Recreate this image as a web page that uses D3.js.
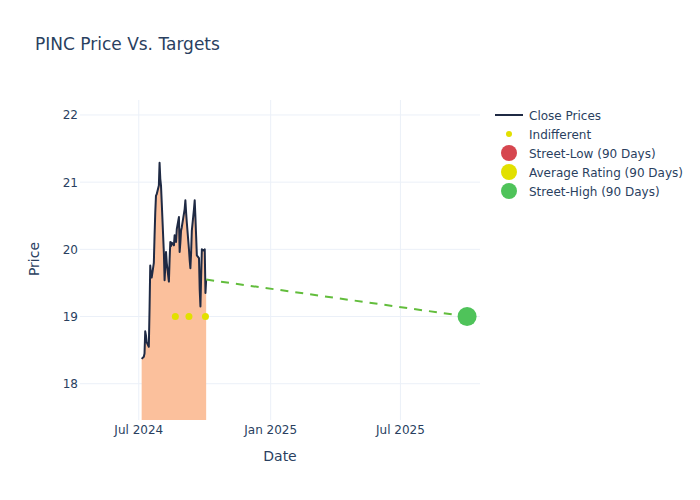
<!DOCTYPE html>
<html><head><meta charset="utf-8">
<script src="https://cdn.jsdelivr.net/npm/d3@7"></script>
<style>body{margin:0;background:#fff}svg{font-family:"DejaVu Sans",verdana,arial,sans-serif}</style>
</head><body><svg id="c" width="700" height="500"></svg>
<script>
const dates = ["2024-07-05","2024-07-08","2024-07-09","2024-07-10","2024-07-11","2024-07-12","2024-07-15","2024-07-16","2024-07-17","2024-07-18","2024-07-19","2024-07-22","2024-07-23","2024-07-24","2024-07-25","2024-07-26","2024-07-29","2024-07-30","2024-07-31","2024-08-01","2024-08-02","2024-08-05","2024-08-06","2024-08-07","2024-08-08","2024-08-09","2024-08-12","2024-08-13","2024-08-14","2024-08-15","2024-08-16","2024-08-19","2024-08-20","2024-08-21","2024-08-22","2024-08-23","2024-08-26","2024-08-27","2024-08-28","2024-08-29","2024-08-30","2024-09-03","2024-09-04","2024-09-05","2024-09-06","2024-09-09","2024-09-10","2024-09-11","2024-09-12","2024-09-13","2024-09-16","2024-09-17","2024-09-18","2024-09-19","2024-09-20","2024-09-23","2024-09-24","2024-09-25","2024-09-26","2024-09-27","2024-09-30","2024-10-01","2024-10-02","2024-10-03"];
const closes = [18.37,18.40,18.45,18.78,18.72,18.62,18.55,19.10,19.76,19.62,19.58,19.80,20.20,20.55,20.80,20.82,20.95,21.29,21.05,20.95,20.70,19.95,19.54,19.75,19.96,19.80,19.52,19.85,20.11,20.05,20.10,20.06,20.21,20.15,20.11,20.30,20.48,19.96,20.10,20.28,20.33,20.60,20.73,20.55,20.40,20.00,19.84,19.72,19.95,20.28,20.60,20.73,20.48,20.20,19.91,19.87,19.40,19.15,19.60,20.00,19.98,20.00,19.35,19.55];
const ratingDates = ["2024-08-21","2024-09-09","2024-10-02"];
const ratingValues = [19.0,19.0,19.0];
const targetDate = "2025-10-02";
const streetHigh = 19.0;
const xTickDates = ["2024-07-01","2025-01-01","2025-07-01"];
const xTickLabels = ["Jul 2024","Jan 2025","Jul 2025"];
const yTicks = [18,19,20,21,22];
const legendItems = ["Close Prices","Indifferent","Street-Low (90 Days)","Average Rating (90 Days)","Street-High (90 Days)"];

const parse = d3.utcParse("%Y-%m-%d");
const svg = d3.select("#c");
const L=80,R=480,T=100,B=420;
const x = d3.scaleUtc().domain([parse("2024-04-10"), parse("2025-10-20")]).range([L,R]);
const y = d3.scaleLinear().domain([17.46, 22.223]).range([B,T]);
const txt = "#2a3f5f", grid = "#ebf0f8";

// gridlines
svg.append("g").selectAll("line").data(yTicks).join("line")
  .attr("x1",L).attr("x2",R).attr("y1",d=>y(d)).attr("y2",d=>y(d)).attr("stroke",grid).attr("stroke-width",1);
svg.append("g").selectAll("line").data(xTickDates).join("line")
  .attr("y1",T).attr("y2",B).attr("x1",d=>x(parse(d))).attr("x2",d=>x(parse(d))).attr("stroke",grid).attr("stroke-width",1);

const pts = dates.map((d,i)=>({d:parse(d),v:closes[i]}));
svg.append("clipPath").attr("id","pc").append("rect").attr("x",L).attr("y",T).attr("width",R-L).attr("height",B-T);
const g = svg.append("g").attr("clip-path","url(#pc)");
g.append("path").datum(pts).attr("d",d3.area().x(p=>x(p.d)).y0(B+50).y1(p=>y(p.v)))
  .attr("fill","#fbc09c");
g.append("path").datum(pts).attr("d",d3.line().x(p=>x(p.d)).y(p=>y(p.v)))
  .attr("fill","none").attr("stroke","#1f2a44").attr("stroke-width",2).attr("stroke-linejoin","round");

// dashed target line
const last = pts[pts.length-1];
g.append("line").attr("x1",x(last.d)).attr("y1",y(last.v)).attr("x2",x(parse(targetDate))).attr("y2",y(streetHigh))
  .attr("stroke","#62bd3c").attr("stroke-width",2).attr("stroke-dasharray","8,7");

// rating dots
g.selectAll("circle.r").data(ratingDates).join("circle").attr("class","r")
  .attr("cx",d=>x(parse(d))).attr("cy",(d,i)=>y(ratingValues[i])).attr("r",3.5).attr("fill","#e2e000");

// street high marker
g.append("circle").attr("cx",x(parse(targetDate))).attr("cy",y(streetHigh)).attr("r",9.5).attr("fill","#4fc35a");

// axis tick labels
svg.append("g").selectAll("text").data(yTicks).join("text")
  .attr("x",78).attr("y",d=>y(d)+4.5).attr("text-anchor","end").attr("font-size",12).attr("fill",txt).text(d=>d);
svg.append("g").selectAll("text").data(xTickDates).join("text")
  .attr("x",d=>x(parse(d))).attr("y",434).attr("text-anchor","middle").attr("font-size",12).attr("fill",txt).text((d,i)=>xTickLabels[i]);

svg.append("text").attr("x",280).attr("y",461).attr("text-anchor","middle").attr("font-size",14).attr("fill",txt).text("Date");
svg.append("text").attr("transform","translate(39,259) rotate(-90)").attr("text-anchor","middle").attr("font-size",14).attr("fill",txt).text("Price");
svg.append("text").attr("x",35).attr("y",50).attr("font-size",17).attr("fill",txt).text("PINC Price Vs. Targets");

// legend
const lg = svg.append("g");
const ly = i=>115+i*19;
lg.append("line").attr("x1",495).attr("x2",523).attr("y1",ly(0)).attr("y2",ly(0)).attr("stroke","#1f2a44").attr("stroke-width",2);
lg.append("circle").attr("cx",509).attr("cy",ly(1)).attr("r",3).attr("fill","#e2e000");
const lc = ["#d6464f","#e2e000","#4fc35a"];
lc.forEach((c,i)=>lg.append("circle").attr("cx",509).attr("cy",ly(i+2)).attr("r",8).attr("fill",c));
lg.selectAll("text").data(legendItems).join("text").attr("x",529).attr("y",(d,i)=>ly(i)+4.5)
  .attr("font-size",12).attr("fill",txt).text(d=>d);
</script></body></html>
